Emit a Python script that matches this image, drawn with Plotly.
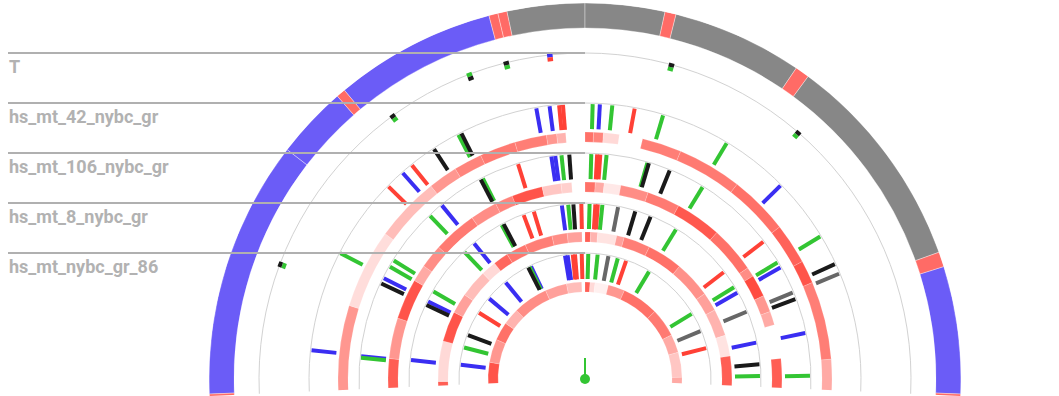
import math
import plotly.graph_objects as go

W, H = 1059, 396
CX, CY = 585, 379
RMAX = 376

# ---------------- data ----------------
track_names = ["T", "hs_mt_42_nybc_gr", "hs_mt_106_nybc_gr", "hs_mt_8_nybc_gr", "hs_mt_nybc_gr_86"]
track_outer = [326, 276, 226, 176, 126]

# outer annotation ring (angle boundaries, degrees clockwise from top)
ring_bounds = [-95, -92.3, -52.4, -41.2, -39.8, -14.8, -13.4, -12.0, 0, 12.3, 14.0, 34.2, 36.4, 70.3, 72.6, 92.3, 95]
ring_kind = ["red", "blue", "blue", "red", "blue", "red", "red", "gray", "gray", "red", "gray", "red", "gray", "red", "blue", "red"]

# heatmap rings (None = no data)
hm42_bounds = [-95, -72.7, -54, -38.6, -31.7, -25, -16.5, -9, -6.6, -4.5, 0, 2, 4.3, 8, 13.5, 22.8, 38, 52, 61.6, 67, 85.4, 95]
hm42_vals = [0.55, 0.18, 0.35, 0.55, 0.65, 0.7, 0.68, 0.55, 0.4, None, 0.75, 0.65, 0.2, None, 0.68, 0.7, 0.75, 0.82, 0.9, 0.68, 0.45]
hm106_bounds = [-95, -84, -72, -60, -55, -48, -35, -27, -21.7, -12.6, -7, -3.9, 0, 3, 5.6, 10.5, 18.7, 28.4, 42, 55.7, 58.5, 65, 70, 74, 84, 95]
hm106_vals = [0.85, 0.55, 0.9, 0.45, 0.6, 0.7, 0.6, 0.65, 0.9, 0.3, 0.25, None, 0.75, 0.45, 0.12, 0.6, 0.7, 0.88, 0.75, 0.6, 0.95, 0.55, 0.45, None, 0.85]
hm8_bounds = [-95, -91, -75, -63, -55, -44, -38, -32, -24, -13, -7, -1.2, 0, 2.2, 5, 12.5, 15.5, 26, 40, 54.5, 62, 72.7, 81, 95]
hm8_vals = [0.85, 0.2, 0.9, 0.5, 0.35, 0.2, 0.8, 0.72, 0.68, 0.6, 0.5, None, 0.85, 0.4, 0.15, 0.5, 0.68, 0.75, 0.58, 0.5, 0.4, 0.15, 0.85]
hm86_bounds = [-95, -80, -66, -55, -45, -24, -11, -2, 0, 3, 6, 14, 24, 46, 63, 74, 89, 95]
hm86_vals = [0.9, 0.55, 0.75, 0.4, 0.6, 0.5, 0.35, None, 0.85, 0.2, 0.08, 0.55, 0.75, 0.7, 0.45, 0.3, 0.45]

# track T small markers (angle, outer colour, inner colour)
t_theta = [-69.4, -36.2, -20.8, -14.0, -6.2, 15.4, 40.9]
t_outer = ["k", "k", "g", "k", "b", "k", "k"]
t_inner = ["g", "g", "k", "g", "r", "g", "g"]

# variant ticks per track
v42_theta = [-84, -62.8, -45.6, -41.5, -39, -33.3, -27.4, -26.7, -10.2, -7.4, -5.4, -4.6, 1.6, 3.1, 5.7, 10.4, 16.5, 31, 45.3, 58.8, 65.3, 67.5]
v42_color = ["b", "g", "r", "b", "r", "k", "g", "k", "b", "b", "r", "r", "g", "b", "g", "r", "g", "g", "b", "g", "k", "y"]
v106_theta = [-84.6, -84.2, -64.9, -63.4, -60.1, -58.2, -43.5, -39.5, -27.6, -27.0, -17.3, -8.6, -7.6, -6.0, -4.0, 1.6, 3.1, 3.9, 5.5, 16.1, 16.5, 22.1, 31.5, 52.4, 58.8, 60.3, 67.4, 69.2, 78.2, 89.2]
v106_color = ["g", "b", "k", "b", "g", "g", "g", "b", "k", "g", "r", "b", "b", "g", "k", "g", "r", "r", "g", "g", "k", "k", "g", "r", "g", "b", "y", "k", "b", "g"]
v8_theta = [-83.8, -65, -63.7, -60, -43.5, -39.3, -28.4, -27.7, -20.5, -17, -7.6, -5.5, -3.8, -1.2, 1.5, 3.4, 4.2, 5.7, 10.9, 16.7, 22, 31.3, 52.4, 58.4, 60.5, 67.4, 78, 85.2, 89]
v8_color = ["b", "k", "b", "g", "g", "b", "g", "k", "r", "r", "b", "g", "k", "r", "g", "r", "r", "g", "y", "k", "k", "g", "r", "g", "b", "y", "b", "k", "g"]
v86_theta = [-83.5, -75.4, -69.4, -58, -50, -39.4, -27, -26.3, -25.6, -9.2, -8, -5.6, -4.6, -1.5, 1.5, 5.8, 10.8, 15.2, 19.2, 30.8, 58.6, 67.5, 75.7]
v86_color = ["b", "g", "k", "r", "b", "b", "k", "g", "b", "b", "b", "r", "r", "r", "g", "g", "y", "g", "r", "g", "g", "y", "r"]

# ---------------- styles ----------------
ring_colors = {"blue": "#6b5cf7", "gray": "#878787", "red": "#ff6b66"}
tick_colors = {"b": "#3a2ef2", "g": "#33c533", "r": "#ff4136", "k": "#1a1a1a", "y": "#676767"}
heat_scale = [[0, "#ffffff"], [1, "#ff4136"]]

fig = go.Figure()

# outer ring
for kind in ["blue", "gray", "red"]:
    th, wd = [], []
    for i, k in enumerate(ring_kind):
        if k == kind:
            a, b = ring_bounds[i], ring_bounds[i + 1]
            th.append((a + b) / 2)
            wd.append(b - a)
    fig.add_trace(go.Barpolar(theta=th, width=wd, r=[25] * len(th), base=[351] * len(th),
                              marker=dict(color=ring_colors[kind], line=dict(color="rgba(255,255,255,0.6)", width=0.6)),
                              hoverinfo="skip", showlegend=False))

# heatmap rings
for bounds, vals, r0 in [(hm42_bounds, hm42_vals, 237), (hm106_bounds, hm106_vals, 187),
                         (hm8_bounds, hm8_vals, 137), (hm86_bounds, hm86_vals, 87)]:
    th, wd, cv = [], [], []
    for i, v in enumerate(vals):
        if v is None:
            continue
        a, b = bounds[i], bounds[i + 1]
        th.append((a + b) / 2)
        wd.append(b - a)
        cv.append(v)
    fig.add_trace(go.Barpolar(theta=th, width=wd, r=[10] * len(th), base=[r0] * len(th),
                              marker=dict(color=cv, colorscale=heat_scale, cmin=0, cmax=1,
                                          line=dict(color="rgba(255,255,255,0.35)", width=0.5)),
                              hoverinfo="skip", showlegend=False))

# variant ticks
segs = {c: ([], []) for c in tick_colors}
for thetas, cols, rout in [(v42_theta, v42_color, 275), (v106_theta, v106_color, 225),
                           (v8_theta, v8_color, 175), (v86_theta, v86_color, 125)]:
    for a, c in zip(thetas, cols):
        segs[c][0].extend([rout - 25, rout, None])
        segs[c][1].extend([a, a, None])
for c, (rr, tt) in segs.items():
    fig.add_trace(go.Scatterpolar(r=rr, theta=tt, mode="lines", line=dict(color=tick_colors[c], width=4),
                                  hoverinfo="skip", showlegend=False))

# track T markers
tsegs = {c: ([], []) for c in tick_colors}
for a, co, ci in zip(t_theta, t_outer, t_inner):
    tsegs[ci][0].extend([319.5, 323.5, None]); tsegs[ci][1].extend([a, a, None])
    tsegs[co][0].extend([323.5, 327.5, None]); tsegs[co][1].extend([a, a, None])
for c, (rr, tt) in tsegs.items():
    if rr:
        fig.add_trace(go.Scatterpolar(r=rr, theta=tt, mode="lines", line=dict(color=tick_colors[c], width=5.5),
                                      hoverinfo="skip", showlegend=False))

# needle + centre dot
fig.add_trace(go.Scatterpolar(r=[0, 21], theta=[0, 0], mode="lines", line=dict(color="#33c533", width=2),
                              hoverinfo="skip", showlegend=False))
fig.add_trace(go.Scatterpolar(r=[0], theta=[0], mode="markers", marker=dict(color="#33c533", size=10),
                              hoverinfo="skip", showlegend=False))

# ---------------- layout ----------------
s = math.degrees(math.asin((H - CY) / RMAX))
shapes, annotations = [], []
for name, rad in zip(track_names, track_outer):
    ypx = CY - rad
    shapes.append(dict(type="line", xref="paper", yref="paper", x0=8 / W, x1=CX / W,
                       y0=1 - ypx / H, y1=1 - ypx / H, line=dict(color="#b0b0b0", width=2), layer="above"))
    annotations.append(dict(xref="paper", yref="paper", x=7 / W, y=1 - (ypx + 1) / H, xanchor="left", yanchor="top",
                            text=name, showarrow=False,
                            font=dict(family="Roboto", size=18, weight=700, color="#b2b2b2")))

fig.update_layout(
    width=W, height=H, margin=dict(l=0, r=0, t=0, b=0),
    paper_bgcolor="white", plot_bgcolor="white",
    showlegend=False, shapes=shapes, annotations=annotations,
    polar=dict(
        domain=dict(x=[(CX - RMAX) / W, (CX + RMAX) / W], y=[0, 1 - (CY - RMAX) / H]),
        sector=[-s, 180 + s], bgcolor="white", barmode="overlay", hole=0,
        radialaxis=dict(range=[0, RMAX], tickvals=track_outer, showticklabels=False, ticks="",
                        showline=False, gridcolor="#d2d2d2", gridwidth=1),
        angularaxis=dict(direction="clockwise", rotation=90, showgrid=False, showline=False,
                         showticklabels=False, ticks=""),
    ),
)

fig.write_html("out.html", config={"displayModeBar": False},
               post_script="document.body.style.margin='0px';document.body.style.overflow='hidden';")
